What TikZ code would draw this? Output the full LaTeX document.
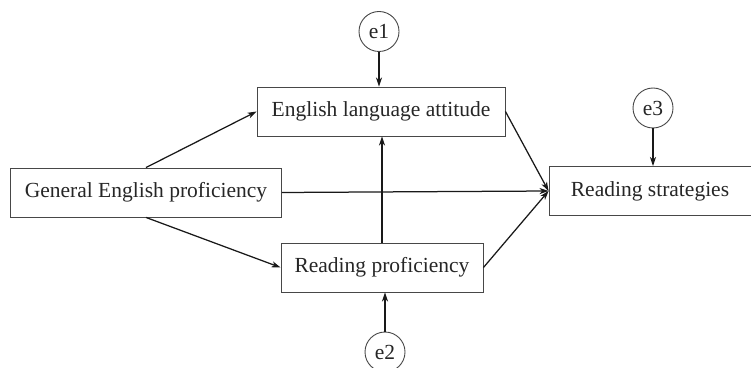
\documentclass[tikz,border=0pt]{standalone}
\usepackage{fontspec}
\setmainfont{Liberation Serif}
\usetikzlibrary{arrows.meta,calc}
\begin{document}
\begin{tikzpicture}[x=1pt,y=1pt,
  boxline/.style={draw=black!72, line width=0.9pt},
  varbox/.style={boxline, rectangle, minimum height=49pt, inner sep=0pt, font=\fontsize{21.5}{25}\selectfont, text=black!85},
  errc/.style={boxline, circle, minimum size=40pt, inner sep=0pt, font=\fontsize{21.5}{25}\selectfont, text=black!85},
  arr/.style={draw=black!90, line width=1.25pt, -{Stealth[length=9pt,width=6pt,inset=2.5pt]}}]
\useasboundingbox (0,0) rectangle (751,367);
\node[varbox, minimum width=271pt] (gen) at (146,174.5) {General English proficiency};
\node[varbox, minimum width=248pt] (ela) at (381,255.5) {English language attitude};
\node[varbox, minimum width=202pt] (rp) at (382,99.5) {Reading proficiency};
\node[varbox, minimum width=202pt] (rs) at (650,176) {Reading strategies};
\node[errc] (e1) at (379,335.5) {e1};
\node[errc] (e3) at (653,259) {e3};
\node[errc] (e2) at (385,15) {e2};
\draw[arr] (e1.south) -- (e1.south |- ela.north);
\draw[arr] (e3.south) -- (e3.south |- rs.north);
\draw[arr] (e2.north) -- (e2.north |- rp.south);
\draw[arr] (gen.north) -- (ela.west);
\draw[arr] (gen.south) -- (rp.west);
\draw[arr] (gen.east) -- (rs.west);
\draw[arr] (rp.north) -- (rp.north |- ela.south);
\draw[arr] (ela.east) -- (rs.west);
\draw[arr] (rp.east) -- (rs.west);
\end{tikzpicture}
\end{document}
